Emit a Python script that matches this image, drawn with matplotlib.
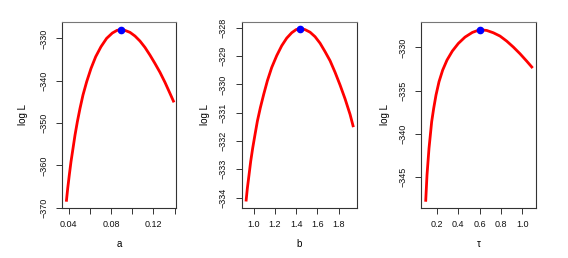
import numpy as np
import matplotlib
matplotlib.use('Agg')
import matplotlib.pyplot as plt

plt.rcParams['font.family'] = ['Liberation Sans', 'DejaVu Sans']

# profile log-likelihood curves
a_vals = [0.0378, 0.0391, 0.0406, 0.0422, 0.0441, 0.0460, 0.0482, 0.0507,
          0.0535, 0.0570, 0.0611, 0.0655, 0.0705, 0.0758, 0.0812, 0.0856,
          0.0891, 0.0931, 0.0979, 0.1026, 0.1073, 0.1120, 0.1167, 0.1214,
          0.1262, 0.1309, 0.1356, 0.1394]
a_logl = [-368.58, -365.43, -362.28, -359.13, -355.98, -352.83, -349.69,
          -346.54, -343.39, -340.24, -337.09, -334.33, -331.97, -330.00,
          -328.74, -328.11, -327.95, -328.11, -328.58, -329.45, -330.63,
          -332.13, -333.94, -335.91, -338.03, -340.39, -342.99, -345.12]
a_hat, a_max = 0.0891, -327.95

b_vals = [0.9278, 0.9404, 0.9561, 0.9718, 0.9906, 1.0125, 1.0345, 1.0627,
          1.0941, 1.1286, 1.1694, 1.2165, 1.2635, 1.3106, 1.3576, 1.3984,
          1.4392, 1.4831, 1.5302, 1.5773, 1.6243, 1.6714, 1.7184, 1.7655,
          1.8125, 1.8596, 1.9067, 1.9380]
b_logl = [-334.14, -333.67, -333.20, -332.72, -332.25, -331.77, -331.30,
          -330.82, -330.35, -329.87, -329.40, -328.98, -328.63, -328.36,
          -328.17, -328.06, -328.02, -328.06, -328.15, -328.31, -328.54,
          -328.84, -329.16, -329.57, -330.02, -330.51, -331.06, -331.51]
b_hat, b_max = 1.4392, -328.02

t_vals = [0.0938, 0.1000, 0.1063, 0.1156, 0.1250, 0.1375, 0.1500, 0.1688,
          0.1906, 0.2188, 0.2531, 0.2938, 0.3438, 0.4000, 0.4625, 0.5313,
          0.6000, 0.6656, 0.7281, 0.7906, 0.8531, 0.9156, 0.9781, 1.0406,
          1.0969]
t_logl = [-347.81, -346.27, -344.73, -343.19, -341.65, -340.12, -338.58,
          -337.04, -335.50, -333.96, -332.62, -331.46, -330.42, -329.54,
          -328.81, -328.27, -327.96, -328.04, -328.31, -328.69, -329.27,
          -329.96, -330.73, -331.58, -332.38]
t_hat, t_max = 0.6000, -327.96

panels = [
    dict(x=a_vals, y=a_logl, px=a_hat, py=a_max, xlabel='a',
         xlim=(0.034, 0.141), ylim=(-370.0, -326.2),
         xticks=[0.04, 0.06, 0.08, 0.10, 0.12, 0.14],
         xticklabels=['0.04', '', '0.08', '', '0.12', ''],
         yticks=[-330, -340, -350, -360, -370],
         pos=[0.1097, 0.195, 0.1996, 0.7186], ylab_x=-0.347),
    dict(x=b_vals, y=b_logl, px=b_hat, py=b_max, xlabel='b',
         xlim=(0.887, 1.969), ylim=(-334.36, -327.8),
         xticks=[1.0, 1.2, 1.4, 1.6, 1.8],
         xticklabels=['1.0', '1.2', '1.4', '1.6', '1.8'],
         yticks=[-328, -329, -330, -331, -332, -333, -334],
         pos=[0.4255, 0.195, 0.2025, 0.7186], ylab_x=-0.319),
    dict(x=t_vals, y=t_logl, px=t_hat, py=t_max, xlabel='τ',
         xlim=(0.05, 1.125), ylim=(-348.5, -327.1),
         xticks=[0.2, 0.4, 0.6, 0.8, 1.0],
         xticklabels=['0.2', '0.4', '0.6', '0.8', '1.0'],
         yticks=[-330, -335, -340, -345],
         pos=[0.7412, 0.195, 0.2019, 0.7186], ylab_x=-0.311),
]

fig = plt.figure(figsize=(5.68, 2.58), dpi=100)

for p in panels:
    ax = fig.add_axes(p['pos'])
    ax.plot(p['x'], p['y'], color='red', lw=2.0, solid_capstyle='butt',
            solid_joinstyle='round')
    ax.plot([p['px']], [p['py']], 'o', color='blue', ms=4.5, zorder=3)
    ax.set_xlim(p['xlim'])
    ax.set_ylim(p['ylim'])
    ax.set_xticks(p['xticks'])
    ax.set_xticklabels(p['xticklabels'])
    ax.set_yticks(p['yticks'])
    ax.set_yticklabels(['\u2212%d' % abs(v) for v in p['yticks']],
                       rotation=90, va='center')
    ax.tick_params(direction='out', length=4, width=0.7, labelsize=6.5,
                   color='#333333', labelcolor='#111111')
    ax.tick_params(axis='x', pad=5)
    ax.tick_params(axis='y', pad=6)
    for s in ax.spines.values():
        s.set_color('#333333')
        s.set_linewidth(0.8)
    ax.spines['top'].set_color('#777777')
    ax.set_xlabel(p['xlabel'], fontsize=7)
    ax.xaxis.set_label_coords(0.5, -0.195)
    ax.xaxis.label.set_va('center')
    ax.set_ylabel('log L', fontsize=7)
    ax.yaxis.set_label_coords(p['ylab_x'], 0.5)
    ax.yaxis.label.set_va('center')

fig.savefig('out.png', dpi=100)
